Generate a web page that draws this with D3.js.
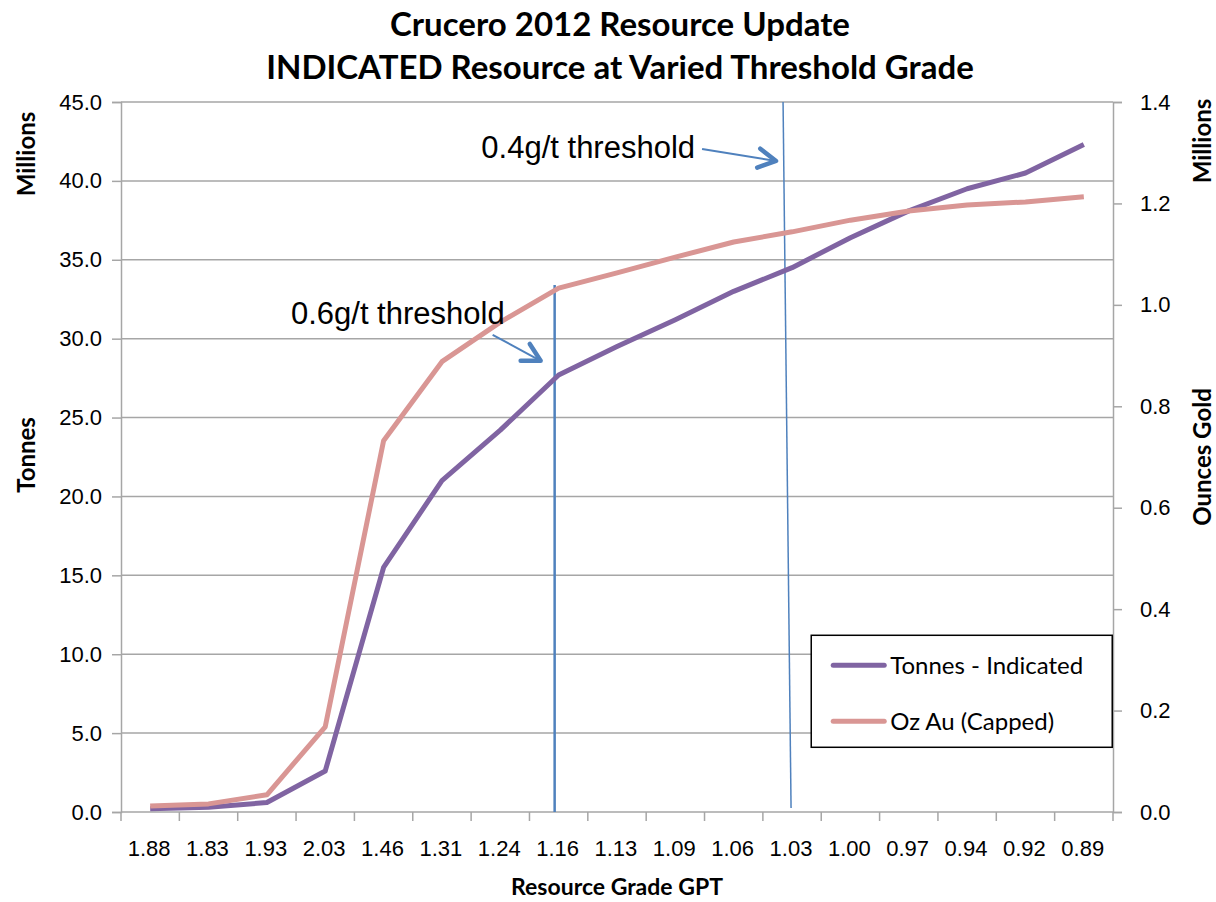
<!DOCTYPE html>
<html>
<head>
<meta charset="utf-8">
<script src="https://cdn.jsdelivr.net/npm/d3@7"></script>
<style>
  body { margin: 0; background: #fff; }
  svg { display: block; font-family: Lato, "Open Sans", sans-serif; }
  .grid line { stroke: #a6a6a6; stroke-width: 1.5; }
  .axis path, .axis line { stroke: #a6a6a6; stroke-width: 1.5; }
  .axis text { fill: #000; font-size: 22px; }
</style>
</head>
<body>
<div id="chart"></div>
<script>
// grade categories along the x axis
const grades = ["1.88", "1.83", "1.93", "2.03", "1.46", "1.31", "1.24", "1.16", "1.13",
                "1.09", "1.06", "1.03", "1.00", "0.97", "0.94", "0.92", "0.89"];
// tonnes (millions) - left axis
const tonnes = [0.2, 0.3, 0.6, 2.6, 15.5, 21.0, 24.2, 27.7, 29.5, 31.2, 33.0, 34.5, 36.4, 38.1, 39.5, 40.5, 42.3];
// ounces gold (millions) - right axis
const ozAu = [0.012, 0.016, 0.034, 0.168, 0.732, 0.888, 0.966, 1.033, 1.063, 1.094, 1.124, 1.144, 1.167, 1.185, 1.197, 1.203, 1.213];
const leftTicks = [0, 5, 10, 15, 20, 25, 30, 35, 40, 45];
const rightTicks = [0, 0.2, 0.4, 0.6, 0.8, 1.0, 1.2, 1.4];
const seriesNames = ["Tonnes - Indicated", "Oz Au (Capped)"];

const svgWidth = 1216, svgHeight = 902;
const margin = { top: 102, right: 103, bottom: 90, left: 121 };
const w = svgWidth - margin.left - margin.right;
const h = svgHeight - margin.top - margin.bottom;

const purple = "#8064a2", pink = "#d99694", blue = "#4f81bd";

const svg = d3.select("#chart").append("svg")
    .attr("width", svgWidth)
    .attr("height", svgHeight);

const defs = svg.append("defs");
const blur = defs.append("filter").attr("id", "shadow").attr("x", "-50%").attr("y", "-50%")
    .attr("width", "200%").attr("height", "200%");
blur.append("feGaussianBlur").attr("stdDeviation", 1.5);

const g = svg.append("g").attr("transform", `translate(${margin.left},${margin.top})`);

const x = d3.scaleBand().domain(grades).range([0, w]).padding(0);
const cx = d => x(d) + x.bandwidth() / 2;
const yL = d3.scaleLinear().domain([0, 45]).range([h, 0]);
const yR = d3.scaleLinear().domain([0, 1.4]).range([h, 0]);

// gridlines
g.append("g").attr("class", "grid")
  .selectAll("line").data(leftTicks.slice(1)).enter().append("line")
    .attr("x1", 0).attr("x2", w)
    .attr("y1", d => yL(d)).attr("y2", d => yL(d));

// left axis
g.append("g").attr("class", "axis")
    .call(d3.axisLeft(yL).tickValues(leftTicks).tickFormat(d3.format(".1f")).tickSize(9).tickPadding(10));
// right axis
g.append("g").attr("class", "axis")
    .attr("transform", `translate(${w},0)`)
    .call(d3.axisRight(yR).tickValues(rightTicks).tickFormat(d3.format(".1f")).tickSize(9).tickPadding(18));

// bottom axis: labels at band centres, ticks at band edges
const xAxis = g.append("g").attr("class", "axis").attr("transform", `translate(0,${h})`);
xAxis.call(d3.axisBottom(x).tickSize(0).tickPadding(28));
xAxis.select(".domain").attr("d", `M0,0H${w}`);
xAxis.selectAll(".edge").data(d3.range(grades.length + 1)).enter().append("line")
    .attr("class", "edge")
    .attr("x1", i => i * x.step()).attr("x2", i => i * x.step())
    .attr("y1", 0).attr("y2", 9);
xAxis.selectAll("text").attr("dx", "-0.05em");

// series lines
const lineL = d3.line().x((d, i) => cx(grades[i])).y(d => yL(d));
const lineR = d3.line().x((d, i) => cx(grades[i])).y(d => yR(d));

// threshold markers (drawn behind the series)
const t06 = grades.indexOf("1.16"), t04 = grades.indexOf("1.03");
g.append("line")
    .attr("x1", cx(grades[t06]) - 3).attr("x2", cx(grades[t06]) - 3)
    .attr("y1", yR(ozAu[t06]) - 2).attr("y2", h)
    .attr("stroke", "#888").attr("stroke-opacity", 0.5).attr("stroke-width", 3)
    .attr("filter", "url(#shadow)").attr("transform", "translate(2,2)");
g.append("line")
    .attr("x1", cx(grades[t06]) - 4).attr("x2", cx(grades[t06]) - 4)
    .attr("y1", yR(ozAu[t06]) - 3).attr("y2", h)
    .attr("stroke", blue).attr("stroke-width", 2.5);
g.append("line")
    .attr("x1", cx(grades[t04]) - 9).attr("x2", cx(grades[t04]) - 1)
    .attr("y1", 0).attr("y2", h - 4)
    .attr("stroke", blue).attr("stroke-width", 1.5);

g.append("path").datum(tonnes)
    .attr("fill", "none").attr("stroke", purple).attr("stroke-width", 5)
    .attr("stroke-linejoin", "round").attr("d", lineL);
g.append("path").datum(ozAu)
    .attr("fill", "none").attr("stroke", pink).attr("stroke-width", 5)
    .attr("stroke-linejoin", "round").attr("d", lineR);

// annotation arrows
function arrow(x1, y1, x2, y2) {
  const a = Math.atan2(y2 - y1, x2 - x1), len = 20, spread = 0.5;
  const p = d3.path();
  p.moveTo(x1, y1); p.lineTo(x2, y2);
  const head = d3.path();
  head.moveTo(x2 - len * Math.cos(a - spread), y2 - len * Math.sin(a - spread));
  head.lineTo(x2, y2);
  head.lineTo(x2 - len * Math.cos(a + spread), y2 - len * Math.sin(a + spread));
  g.append("path").attr("d", p.toString()).attr("fill", "none")
      .attr("stroke", blue).attr("stroke-width", 2);
  g.append("path").attr("d", head.toString()).attr("fill", "none")
      .attr("stroke", blue).attr("stroke-width", 4.5)
      .attr("stroke-linecap", "round").attr("stroke-linejoin", "round");
}
const ax04 = cx(grades[t04]) - 10, ay04 = yL(41.2);
g.append("text").attr("x", ax04 - 87).attr("y", ay04 - 4)
    .attr("text-anchor", "end").attr("font-family", "Liberation Sans, Arial, sans-serif")
    .attr("font-size", 31).text("0.4g/t threshold");
arrow(ax04 - 80, ay04 - 13, ax04 - 6, ay04 - 1);

const ax06 = cx(grades[t06]) - 18, ay06 = yL(28.6);
g.append("text").attr("x", ax06 - 36).attr("y", ay06 - 37)
    .attr("text-anchor", "end").attr("font-family", "Liberation Sans, Arial, sans-serif")
    .attr("font-size", 31).text("0.6g/t threshold");
arrow(ax06 - 48, ay06 - 26, ax06, ay06);

// legend
const lg = g.append("g").attr("transform", `translate(${x(grades[12]) - 10},${yL(11.2)})`);
lg.append("rect").attr("width", 301).attr("height", 112)
    .attr("fill", "#fff").attr("stroke", "#000").attr("stroke-width", 1.5);
[[purple, seriesNames[0]], [pink, seriesNames[1]]].forEach(([c, name], i) => {
  const yy = 30 + i * 56;
  lg.append("line").attr("x1", 22).attr("x2", 73).attr("y1", yy).attr("y2", yy)
      .attr("stroke", c).attr("stroke-width", 5).attr("stroke-linecap", "round");
  lg.append("text").attr("x", 79).attr("y", yy).attr("dy", "0.35em")
      .attr("font-size", 24).text(name);
});

// titles
const title = svg.append("g").attr("text-anchor", "middle").attr("font-weight", "bold").attr("font-size", 33);
title.append("text").attr("x", 620).attr("y", 36).text("Crucero 2012 Resource Update");
title.append("text").attr("x", 620).attr("y", 79).text("INDICATED Resource at Varied Threshold Grade");

svg.append("text").attr("x", margin.left + w / 2).attr("y", 895)
    .attr("text-anchor", "middle").attr("font-weight", "bold").attr("font-size", 23)
    .text("Resource Grade GPT");

function vlabel(xp, yp, txt) {
  svg.append("text").attr("transform", `translate(${xp},${yp}) rotate(-90)`)
      .attr("text-anchor", "middle").attr("dy", "0.35em")
      .attr("font-weight", "bold").attr("font-size", 24).text(txt);
}
vlabel(27, 154, "Millions");
vlabel(27, 455, "Tonnes");
vlabel(1203, 141, "Millions");
vlabel(1203, 457, "Ounces Gold");
</script>
</body>
</html>
